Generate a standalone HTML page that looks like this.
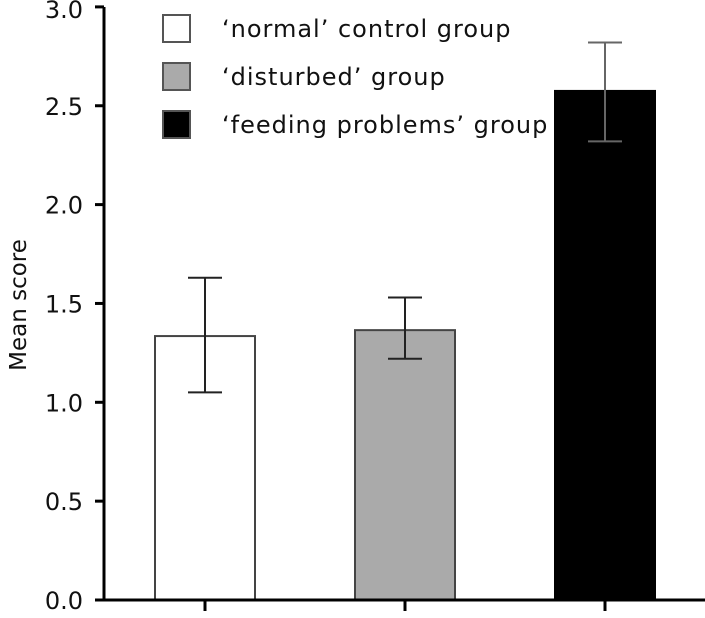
<!DOCTYPE html>
<html><head><style>body{margin:0;background:#fff}svg{display:block;font-family:"DejaVu Sans","Liberation Sans",sans-serif}</style></head>
<body>
<svg id="c" width="705" height="618"></svg>
<script>
const categories=["normal","disturbed","feeding"];
const values=[1.335,1.365,2.575];
const errHigh=[1.63,1.53,2.82];
const errLow=[1.05,1.22,2.32];
const fills=["#fff","#aaa","#000"];
const ticks=[0,0.5,1,1.5,2,2.5,3];
const tickLabels=["0.0","0.5","1.0","1.5","2.0","2.5","3.0"];
const legendLabels=["\u2018normal\u2019 control group","\u2018disturbed\u2019 group","\u2018feeding problems\u2019 group"];
const NS="http://www.w3.org/2000/svg",svg=document.getElementById('c');
const y=v=>600-v*197.7, x=i=>205+i*200;
function el(t,a,p){const e=document.createElementNS(NS,t);for(const k in a)e.setAttribute(k,a[k]);(p||svg).appendChild(e);return e;}
categories.forEach((c,i)=>{
 const b=el('rect',{x:x(i)-50,y:y(values[i]),width:100,height:600-y(values[i]),fill:fills[i],stroke:i==2?'#000':'#444','stroke-width':2});
 
 
 const e=el('path',{d:`M${x(i)} ${y(errHigh[i])}V${y(errLow[i])}M${x(i)-17} ${y(errHigh[i])}H${x(i)+17}M${x(i)-17} ${y(errLow[i])}H${x(i)+17}`,stroke:i==2?'#666':'#222','stroke-width':2,fill:'none'});
 
 
 const t=el('line',{x1:x(i),x2:x(i),y1:600,y2:611,stroke:'#000','stroke-width':3});
 
 
});
const ax=el('path',{d:'M104 7V600M95 600H705',stroke:'#000','stroke-width':3,fill:'none'});


ticks.forEach((v,i)=>{
 el('line',{x1:95,x2:104,y1:y(v),y2:y(v),stroke:'#000','stroke-width':3});
 const t=el('text',{x:83,y:Math.max(y(v)+9,18),'text-anchor':'end','font-size':24,fill:'#111'});
 t.textContent=tickLabels[i];
 
 
});
const yl=el('text',{transform:'translate(26,305) rotate(-90)','text-anchor':'middle','font-size':23,fill:'#111'});
yl.textContent='Mean score';


legendLabels.forEach((l,i)=>{
 const yy=15+i*48;
 const r=el('rect',{x:163,y:yy,width:27,height:27,fill:fills[i],stroke:'#555','stroke-width':2});
 
 
 const t=el('text',{x:222,y:yy+22,'font-size':24,'letter-spacing':1,fill:'#111'});
 t.textContent=l;
 
 
});
</script>
</body></html>
